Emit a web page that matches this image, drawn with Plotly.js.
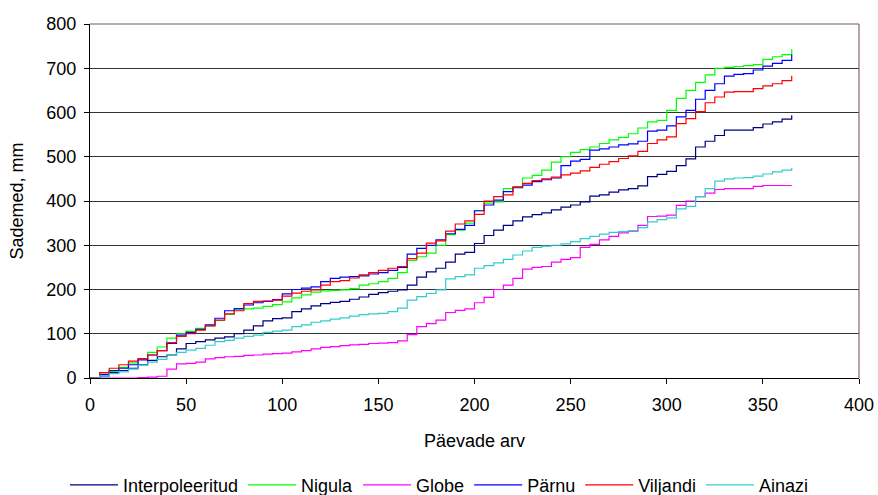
<!DOCTYPE html>
<html>
<head>
<meta charset="utf-8">
<script src="https://cdn.plot.ly/plotly-3.0.1.min.js"></script>
<style>
  html, body { margin: 0; padding: 0; background: #fff; }
  #chart { width: 878px; height: 495px; }
</style>
</head>
<body>
<div id="chart"></div>
<script>
// Cumulative precipitation (mm) by day of year, sampled every 5 days
const days = [];
for (let d = 0; d <= 365; d += 5) days.push(d);

const interpoleeritud = [0,5,12,17,22,30,40,48,52,66,78,82,86,90,93,100,108,118,129,134,
  136,150,156,163,168,171,173,178,183,189,193,196,199,210,228,240,248,262,280,284,
  304,322,334,345,355,364,369,373,380,386,391,398,411,414,420,425,428,434,455,460,
  467,480,495,522,535,548,560,560,560,566,574,579,585,594];

const nigula = [0,6,15,24,34,44,58,70,90,100,106,112,118,130,144,154,156,158,162,166,
  172,181,188,194,197,198,199,202,210,213,218,225,238,266,274,282,300,324,334,350,
  378,395,398,428,432,452,458,470,488,500,510,516,522,530,538,544,552,565,579,582,
  605,632,650,668,685,700,702,704,706,708,720,726,731,743];

const globe = [0,0,0,0,0,1,2,4,20,32,33,36,43,46,48,49,51,52,54,55,
  56,59,62,66,69,71,73,75,76,78,79,80,84,98,116,123,131,148,153,156,
  170,182,200,210,225,246,250,252,262,268,272,295,302,312,320,328,332,345,365,366,
  368,390,400,410,418,426,428,428,428,433,435,435,435,435];

const parnu = [0,8,17,22,30,41,52,62,78,97,103,110,120,135,152,157,165,170,173,177,
  190,200,203,206,218,225,228,229,231,235,238,243,250,280,293,300,312,326,336,345,
  378,391,402,421,430,436,444,448,452,480,490,494,515,518,522,527,529,535,558,560,
  570,590,605,630,650,665,682,686,688,696,705,711,718,731];

const viljandi = [0,12,22,30,38,44,52,62,80,94,100,108,118,131,145,152,168,173,174,176,
  185,192,196,199,210,218,220,226,233,238,243,248,252,270,282,305,310,332,348,355,
  370,400,410,414,432,440,446,450,454,459,463,468,476,483,489,496,502,512,530,538,
  545,575,586,602,622,635,646,647,647,654,660,665,672,683];

const ainazi = [0,5,10,14,20,29,36,42,52,58,63,67,74,82,85,90,94,97,103,106,
  108,116,120,126,129,133,136,140,143,145,146,150,158,176,184,191,199,224,229,233,
  248,254,260,268,278,287,295,298,300,303,308,315,320,325,329,331,333,340,353,358,
  362,382,388,410,428,445,450,452,453,456,461,466,470,475];

const seriesNames = ["Interpoleeritud", "Nigula", "Globe", "Pärnu", "Viljandi", "Ainazi"];
const seriesValues = [interpoleeritud, nigula, globe, parnu, viljandi, ainazi];
const seriesColors = ["#000080", "#00FF00", "#FF00FF", "#0000FF", "#FF0000", "#33CCCC"];

const xTicks = [0, 50, 100, 150, 200, 250, 300, 350, 400];
const yTicks = [0, 100, 200, 300, 400, 500, 600, 700, 800];

const traces = seriesNames.map((name, i) => ({
  type: "scatter",
  mode: "lines",
  name: name,
  x: days,
  y: seriesValues[i],
  line: { color: seriesColors[i], width: 1.2, shape: "hv" }
}));

const font = { family: "Liberation Sans, Arial, sans-serif", size: 18, color: "#000" };

const layout = {
  width: 878,
  height: 495,
  margin: { l: 90, r: 19, t: 24, b: 117, autoexpand: false },
  paper_bgcolor: "#fff",
  plot_bgcolor: "#fff",
  font: font,
  showlegend: true,
  legend: {
    orientation: "h",
    x: 0.5, xanchor: "center", xref: "container",
    y: 0.02, yanchor: "middle", yref: "container",
    font: font,
    itemwidth: 48,
    tracegroupgap: 0
  },
  xaxis: {
    range: [0, 400],
    tickvals: xTicks,
    ticktext: xTicks.map(String),
    ticks: "outside",
    ticklen: 5,
    tickcolor: "#000",
    ticklabelstandoff: 5,
    showgrid: false,
    zeroline: false,
    showline: true,
    linecolor: "#000",
    linewidth: 1,
    tickfont: font,
    automargin: false,
    title: { text: "Päevade arv", font: font, standoff: 20 }
  },
  yaxis: {
    range: [0, 800],
    tickvals: yTicks,
    ticktext: yTicks.map(String),
    ticks: "outside",
    ticklen: 5,
    tickcolor: "#000",
    ticklabelstandoff: 4,
    showgrid: true,
    gridcolor: "#333",
    gridwidth: 1,
    zeroline: false,
    showline: true,
    linecolor: "#000",
    linewidth: 1,
    tickfont: font,
    automargin: false,
    title: { text: "Sademed, mm", font: font, standoff: 18 }
  },
  shapes: [
    { type: "line", xref: "paper", yref: "paper", x0: 0, x1: 1, y0: 1, y1: 1,
      line: { color: "#6e5a5a", width: 1.2 } },
    { type: "line", xref: "paper", yref: "paper", x0: 1, x1: 1, y0: 0, y1: 1,
      line: { color: "#8a6666", width: 1.2 } }
  ]
};

Plotly.newPlot("chart", traces, layout, { staticPlot: true, displayModeBar: false });
</script>
</body>
</html>
